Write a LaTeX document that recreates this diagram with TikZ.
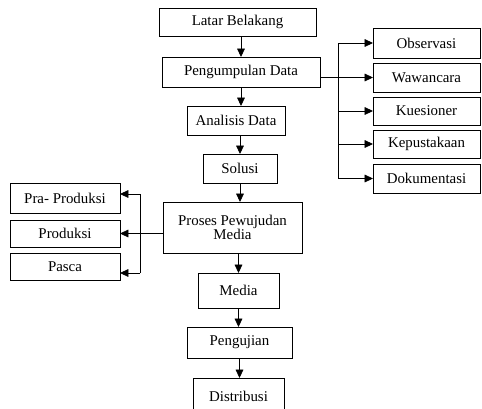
\documentclass[tikz,border=0pt]{standalone}
\usepackage{fontspec}
\setmainfont{Liberation Serif}
\usetikzlibrary{arrows.meta}
\begin{document}
\begin{tikzpicture}[x=0.025cm,y=-0.025cm,
    box/.style={draw,line width=0.6pt,inner sep=0pt,outer sep=0pt,align=center,
      font=\fontsize{10.6}{10.5}\selectfont},
    wd/.style={minimum width=#1*0.025cm},
    ht/.style={minimum height=#1*0.025cm},
    arr/.style={line width=0.6pt,-{Triangle[length=6pt,width=5.5pt]}}]
  \useasboundingbox (0,0) rectangle (482,409);
  \path
    (237.5,22) node[box,wd=157,ht=28] (latar){Latar Belakang}
    (241,72) node[box,wd=158,ht=30] (kumpul){Pengumpulan Data}
    (236,120.5) node[box,wd=98,ht=29] (analisis){Analisis Data}
    (240,168.5) node[box,wd=74,ht=29] (solusi){Solusi}
    (232.5,227.5) node[box,wd=139,ht=51] (proses){Proses Pewujudan\\Media}
    (238.5,290.5) node[box,wd=81,ht=35] (media){Media}
    (239.5,342.5) node[box,wd=105,ht=31] (uji){Pengujian}
    (238.5,396) node[box,wd=91,ht=36] (distribusi){Distribusi}
    (426.5,43) node[box,wd=107,ht=30] (obs){Observasi}
    (426.5,77.5) node[box,wd=107,ht=29] (waw){Wawancara}
    (426.5,111) node[box,wd=107,ht=28] (kues){Kuesioner}
    (426.5,144) node[box,wd=107,ht=28] (kep){Kepustakaan}
    (426.5,178.5) node[box,wd=107,ht=29] (dok){Dokumentasi}
    (65,198) node[box,wd=110,ht=30] (pra){Pra- Produksi}
    (65,233.5) node[box,wd=110,ht=27] (prod){Produksi}
    (65,266.5) node[box,wd=110,ht=27] (pasca){Pasca};
  \coordinate (rt) at (338,43);
  \coordinate (rb) at (338,178.5);
  \coordinate (lt) at (140,194);
  \coordinate (lb) at (140,273);
  \begin{scope}[arr]
    \draw (kumpul |- latar.south) -- (kumpul);
    \draw (kumpul) -- (kumpul |- analisis.north);
    \draw (solusi |- analisis.south) -- (solusi);
    \draw (solusi) -- (solusi |- proses.north);
    \draw (media |- proses.south) -- (media);
    \draw (media) -- (media |- uji.north);
    \draw (uji) -- (uji |- distribusi.north);
    \draw (kumpul.east |- waw.west) -- (waw.west);
    \draw (rt) -- (obs.west);
    \draw (rt |- kues.west) -- (kues.west);
    \draw (rt |- kep.west) -- (kep.west);
    \draw (rb) -- (dok.west);
    \draw (proses.west |- prod.east) -- (prod.east);
    \draw (lt) -- (pra.east |- lt);
    \draw (lb) -- (pasca.east |- lb);
  \end{scope}
  \draw[line width=0.6pt] (rt) -- (rb);
  \draw[line width=0.6pt] (lt) -- (lb);
\end{tikzpicture}
\end{document}
